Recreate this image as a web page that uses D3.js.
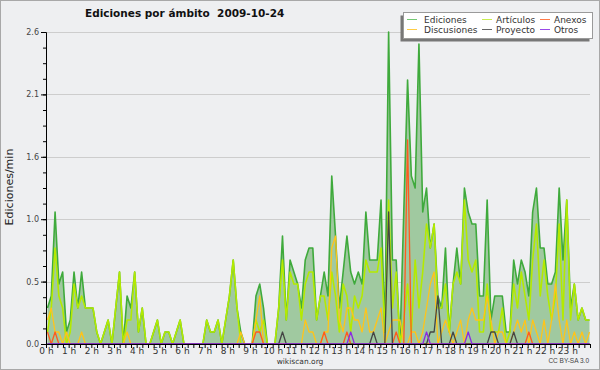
<!DOCTYPE html>
<html>
<head>
<meta charset="utf-8">
<script src="https://cdn.jsdelivr.net/npm/d3@7"></script>
<style>
  body { margin: 0; background: #fff; }
  svg { display: block; font-family: 'DejaVu Sans', sans-serif; }
</style>
</head>
<body>
<div id="chart"></div>
<script>
// one value every 10 minutes, 2009-10-24, edits per minute
const ediciones = [
  0.3, 0.4, 1.1, 0.5, 0.6, 0.1, 0.2, 0.6, 0.3, 0.6, 0.3, 0.3, 0.3, 0.1, 0, 0.1, 0.2, 0, 0.3, 0.6, 0, 0.4, 0.3, 0.6,
  0.1, 0.3, 0, 0, 0.1, 0.2, 0, 0.1, 0.1, 0, 0.1, 0.2, 0, 0, 0, 0, 0, 0, 0.2, 0.1, 0.1, 0.2, 0, 0.2,
  0.4, 0.7, 0.3, 0.1, 0, 0, 0, 0.4, 0.5, 0.3, 0, 0, 0, 0.3, 0.9, 0.2, 0.7, 0.6, 0.5, 0.3, 0.7, 0.8, 0.8, 0.2,
  0.4, 0.6, 0.4, 1.4, 0.9, 0.3, 0.6, 0.9, 0.6, 0.5, 0.6, 0.5, 1.1, 0.7, 0.7, 0.7, 1.2, 0.1, 2.6, 0.7, 0.7, 0, 1.1, 2.2,
  1.4, 1.3, 2.5, 1.1, 1.3, 0.8, 1.0, 0.4, 0.3, 0.8, 0.1, 0.5, 0.8, 0.5, 1.3, 1.1, 1.0, 1.0, 0.4, 0.4, 1.2, 0.2, 0.4, 0.4,
  0.4, 0.1, 0.1, 0.7, 0.5, 0.7, 0.6, 0.4, 1.1, 1.3, 0.8, 0.8, 0.5, 0.5, 0.6, 1.3, 0.7, 1.2, 0.3, 0.5, 0.2, 0.3, 0.2, 0.2
]
const articulos = [
  0.1, 0.3, 0.8, 0.4, 0.3, 0, 0.1, 0.5, 0.3, 0.4, 0.3, 0.3, 0.3, 0.1, 0, 0.1, 0.2, 0, 0.3, 0.6, 0, 0.2, 0.2, 0.6,
  0.1, 0.3, 0, 0, 0.1, 0.2, 0, 0.1, 0.1, 0, 0.1, 0.2, 0, 0, 0, 0, 0, 0, 0.2, 0.1, 0.1, 0.2, 0, 0.2,
  0.4, 0.7, 0.3, 0, 0, 0, 0, 0.2, 0.1, 0.2, 0, 0, 0, 0.3, 0.7, 0.2, 0.6, 0.5, 0.5, 0.2, 0.5, 0.6, 0.6, 0.2,
  0.4, 0.4, 0.2, 0.6, 0.4, 0.1, 0.5, 0.4, 0.1, 0.4, 0.3, 0.4, 0.7, 0.6, 0.6, 0.6, 0.8, 0.1, 1.2, 0.3, 0.6, 0, 0.2, 0.5,
  0.1, 0.7, 0.3, 0.6, 1.0, 0.8, 1.0, 0.3, 0.3, 0.5, 0.1, 0.5, 0.6, 0.5, 1.2, 0.7, 0.6, 0.7, 0.1, 0.1, 0.5, 0.1, 0.1, 0.1,
  0.3, 0, 0.1, 0.5, 0.3, 0.6, 0.4, 0.2, 0.7, 1.0, 0.4, 0.7, 0.4, 0.2, 0.4, 1.0, 0.2, 1.2, 0.2, 0.5, 0.2, 0.3, 0.2, 0.2
]
const discusiones = [
  0.2, 0.3, 0.1, 0.1, 0, 0.1, 0, 0, 0, 0.1, 0, 0, 0, 0, 0, 0, 0, 0, 0, 0, 0, 0.1, 0, 0,
  0, 0, 0, 0, 0, 0, 0, 0, 0, 0, 0, 0, 0, 0, 0, 0, 0, 0, 0, 0, 0, 0, 0, 0,
  0, 0, 0, 0.1, 0, 0, 0, 0.2, 0.4, 0, 0, 0, 0, 0, 0, 0, 0, 0, 0, 0, 0.2, 0.1, 0.1, 0,
  0, 0.1, 0.1, 0.8, 0.9, 0.2, 0.1, 0.3, 0.3, 0.2, 0.2, 0.1, 0.3, 0.1, 0.1, 0.2, 0.3, 0, 0.1, 0.2, 0.2, 0.2, 0, 0,
  0.1, 0.1, 0, 0.1, 0.3, 0.5, 0.6, 0, 0.1, 0.2, 0.1, 0, 0.1, 0.2, 0, 0.2, 0.3, 0.2, 0.2, 0.2, 0.4, 0.2, 0, 0.1,
  0.1, 0, 0, 0.1, 0.2, 0.1, 0.2, 0, 0.2, 0.1, 0, 0.2, 0, 0.2, 0.5, 0.2, 0, 0.2, 0, 0.1, 0, 0.1, 0, 0.1
]
const anexos = [
  0.1, 0, 0.1, 0, 0, 0, 0, 0, 0, 0, 0, 0, 0, 0, 0, 0, 0, 0, 0, 0, 0, 0, 0, 0,
  0, 0, 0, 0, 0, 0, 0, 0, 0, 0, 0, 0, 0, 0, 0, 0, 0, 0, 0, 0, 0, 0, 0, 0,
  0, 0, 0, 0, 0, 0, 0, 0.1, 0.1, 0, 0, 0, 0, 0, 0, 0, 0, 0, 0, 0, 0, 0, 0, 0,
  0, 0.1, 0, 0, 0, 0, 0, 0.1, 0, 0, 0, 0, 0, 0, 0, 0, 0, 0, 0, 0, 0.1, 0, 0, 1.7,
  0, 0, 0, 0, 0, 0, 0, 0, 0, 0, 0, 0, 0, 0, 0, 0, 0, 0, 0, 0, 0, 0, 0, 0,
  0, 0, 0, 0, 0, 0, 0, 0.1, 0, 0, 0, 0, 0, 0, 0, 0, 0, 0, 0, 0, 0, 0, 0, 0
]
const proyecto = [
  0, 0, 0, 0, 0, 0, 0, 0, 0, 0, 0, 0, 0, 0, 0, 0, 0, 0, 0, 0, 0, 0, 0, 0,
  0, 0, 0, 0, 0, 0, 0, 0, 0, 0, 0, 0, 0, 0, 0, 0, 0, 0, 0, 0, 0, 0, 0, 0,
  0, 0, 0, 0, 0, 0, 0, 0, 0, 0, 0, 0, 0, 0, 0.1, 0, 0, 0, 0, 0, 0, 0, 0, 0,
  0, 0, 0, 0, 0, 0, 0, 0, 0, 0, 0, 0, 0, 0, 0.1, 0, 0, 0, 1.1, 0, 0, 0, 0, 0,
  0, 0, 0, 0, 0, 0.1, 0.1, 0.4, 0, 0, 0, 0.1, 0, 0, 0, 0, 0, 0, 0, 0, 0, 0.1, 0.1, 0,
  0, 0, 0, 0.1, 0, 0, 0, 0, 0, 0, 0, 0, 0, 0, 0, 0, 0, 0, 0, 0, 0, 0, 0, 0
]
const otros = [
  0, 0, 0, 0, 0, 0, 0, 0, 0, 0, 0, 0, 0, 0, 0, 0, 0, 0, 0, 0, 0, 0, 0, 0,
  0, 0, 0, 0, 0, 0, 0, 0, 0, 0, 0, 0, 0, 0, 0, 0, 0, 0, 0, 0, 0, 0, 0, 0,
  0, 0, 0, 0, 0, 0, 0, 0, 0, 0, 0, 0, 0, 0, 0, 0, 0, 0, 0, 0, 0, 0, 0, 0,
  0, 0, 0, 0, 0, 0, 0, 0, 0.1, 0, 0, 0, 0, 0, 0, 0, 0, 0, 0, 0, 0, 0, 0, 0,
  0, 0, 0, 0, 0.1, 0, 0, 0, 0, 0, 0, 0, 0, 0, 0, 0.1, 0, 0, 0, 0, 0, 0, 0, 0,
  0, 0, 0, 0, 0, 0, 0, 0, 0, 0, 0, 0, 0, 0, 0, 0, 0, 0, 0, 0, 0, 0, 0, 0
]
const hourLabels = ['0 h', '1 h', '2 h', '3 h', '4 h', '5 h', '6 h', '7 h', '8 h', '9 h', '10 h', '11 h',
  '12 h', '13 h', '14 h', '15 h', '16 h', '17 h', '18 h', '19 h', '20 h', '21 h', '22 h', '23 h']
const yTicks = [0, 0.52, 1.04, 1.56, 2.08, 2.6]
const yLabels = ['0.0', '0.5', '1.0', '1.6', '2.1', '2.6']

const series = [
  {name: 'Ediciones', values: ediciones, color: '#3faa3c', legend: '#74c874'},
  {name: 'Artículos', values: articulos, color: '#b4ea00', legend: '#c8ec50'},
  {name: 'Discusiones', values: discusiones, color: '#ffc419', legend: '#ffcc44'},
  {name: 'Anexos', values: anexos, color: '#ff5a1e', legend: '#ff7a48'},
  {name: 'Proyecto', values: proyecto, color: '#454545', legend: '#666666'},
  {name: 'Otros', values: otros, color: '#8a2be2', legend: '#9a4ae8'}
]

const width = 600, height = 370
const svg = d3.select('#chart').append('svg')
  .attr('width', width)
  .attr('height', height)

svg.append('rect')
  .attr('x', 0.5).attr('y', 0.5)
  .attr('width', width - 1).attr('height', height - 1)
  .attr('fill', '#eeeff1')
  .attr('stroke', '#a8a8a8')

const x = d3.scaleLinear().domain([0, 24]).range([46, 590])
const xi = d3.scaleLinear().domain([0, ediciones.length - 1]).range([47.5, 589.5])
const y = d3.scaleLinear().domain([0, 2.6]).range([344, 32])

// grid
svg.append('g').selectAll('line')
  .data(yTicks.slice(1))
  .enter().append('line')
  .attr('x1', 46).attr('x2', 590)
  .attr('y1', d => Math.round(y(d)) + 0.5)
  .attr('y2', d => Math.round(y(d)) + 0.5)
  .attr('stroke', '#cdcdcd')

// area + lines
const area = d3.area()
  .x((d, i) => xi(i))
  .y0(y(0))
  .y1(d => y(d))
svg.append('path')
  .datum(ediciones)
  .attr('d', area)
  .attr('fill', '#a0c9a0')

const line = d3.line()
  .x((d, i) => xi(i))
  .y(d => y(d))
svg.selectAll('path.serie')
  .data(series)
  .enter().append('path')
  .attr('class', 'serie')
  .attr('d', d => line(d.values))
  .attr('fill', 'none')
  .attr('stroke', d => d.color)
  .attr('stroke-width', (d, i) => i < 2 ? 1.6 : 1.3)
  .attr('stroke-linejoin', 'round')

// y axis
svg.append('g')
  .attr('transform', 'translate(46,0)')
  .call(d3.axisLeft(y).tickValues(d3.range(0, 2.61, 0.13)).tickSize(3).tickFormat('').tickSizeOuter(0))
svg.append('g')
  .attr('transform', 'translate(46,0)')
  .call(d3.axisLeft(y).tickValues(yTicks).tickSize(5).tickPadding(2)
    .tickFormat((d, i) => yLabels[i]).tickSizeOuter(0))
  .call(g => g.selectAll('text').attr('font-size', 8).attr('fill', '#444').attr('font-family', 'DejaVu Sans'))
svg.selectAll('.domain, .tick line').attr('stroke', '#000')

// x axis
svg.append('g')
  .attr('transform', 'translate(0,344)')
  .call(d3.axisBottom(x).tickValues(d3.range(0, 24.01, 0.25)).tickSize(4).tickFormat('').tickSizeOuter(0))
  .call(g => g.selectAll('line, path').attr('stroke', '#000'))
svg.append('g')
  .attr('transform', 'translate(0,344)')
  .call(d3.axisBottom(x).tickValues(d3.range(24)).tickSize(0).tickFormat(d => hourLabels[d]))
  .call(g => g.select('.domain').remove())
  .call(g => g.selectAll('text').attr('y', 9.5).attr('dy', 0)
    .attr('font-size', 9).attr('fill', '#333').attr('font-family', 'DejaVu Sans'))

// titles
svg.append('text')
  .attr('x', 85).attr('y', 17)
  .attr('font-size', 10.5).attr('font-weight', 'bold')
  .attr('fill', '#111')
  .style('white-space', 'pre')
  .text('Ediciones por ámbito  2009-10-24')
svg.append('text')
  .attr('transform', 'translate(13,187) rotate(-90)')
  .attr('text-anchor', 'middle')
  .attr('font-size', 11)
  .attr('fill', '#222')
  .text('Ediciones/min')
svg.append('text')
  .attr('x', 300).attr('y', 364)
  .attr('text-anchor', 'middle')
  .attr('font-size', 7.5)
  .attr('fill', '#333')
  .text('wikiscan.org')
svg.append('text')
  .attr('x', 589).attr('y', 362.5)
  .attr('text-anchor', 'end')
  .attr('font-size', 6.5)
  .attr('font-family', 'Liberation Sans')
  .attr('fill', '#444')
  .text('CC BY-SA 3.0')

// legend
const legend = svg.append('g')
legend.append('rect')
  .attr('x', 400.5).attr('y', 15.5).attr('width', 189).attr('height', 26)
  .attr('fill', '#777')
legend.append('rect')
  .attr('x', 403.5).attr('y', 12.5).attr('width', 189).attr('height', 26)
  .attr('fill', '#fff').attr('stroke', '#9a9a9a')
const legendOrder = ['Ediciones', 'Artículos', 'Anexos', 'Discusiones', 'Proyecto', 'Otros']
const colX = [407, 482, 540]
const rowY = [19, 29]
const items = legend.selectAll('g.item')
  .data(legendOrder.map(n => series.find(s => s.name === n)))
  .enter().append('g')
  .attr('class', 'item')
  .attr('transform', (d, i) => `translate(${colX[i % 3]},${rowY[Math.floor(i / 3)]})`)
items.append('line')
  .attr('x1', 0).attr('x2', 10)
  .attr('y1', 0.5).attr('y2', 0.5)
  .attr('stroke', d => d.legend)
items.append('text')
  .attr('x', (d, i) => i % 3 === 0 ? 17 : 14)
  .attr('y', 3.5)
  .attr('font-size', 9)
  .attr('fill', '#333')
  .text(d => d.name)
</script>
</body>
</html>
